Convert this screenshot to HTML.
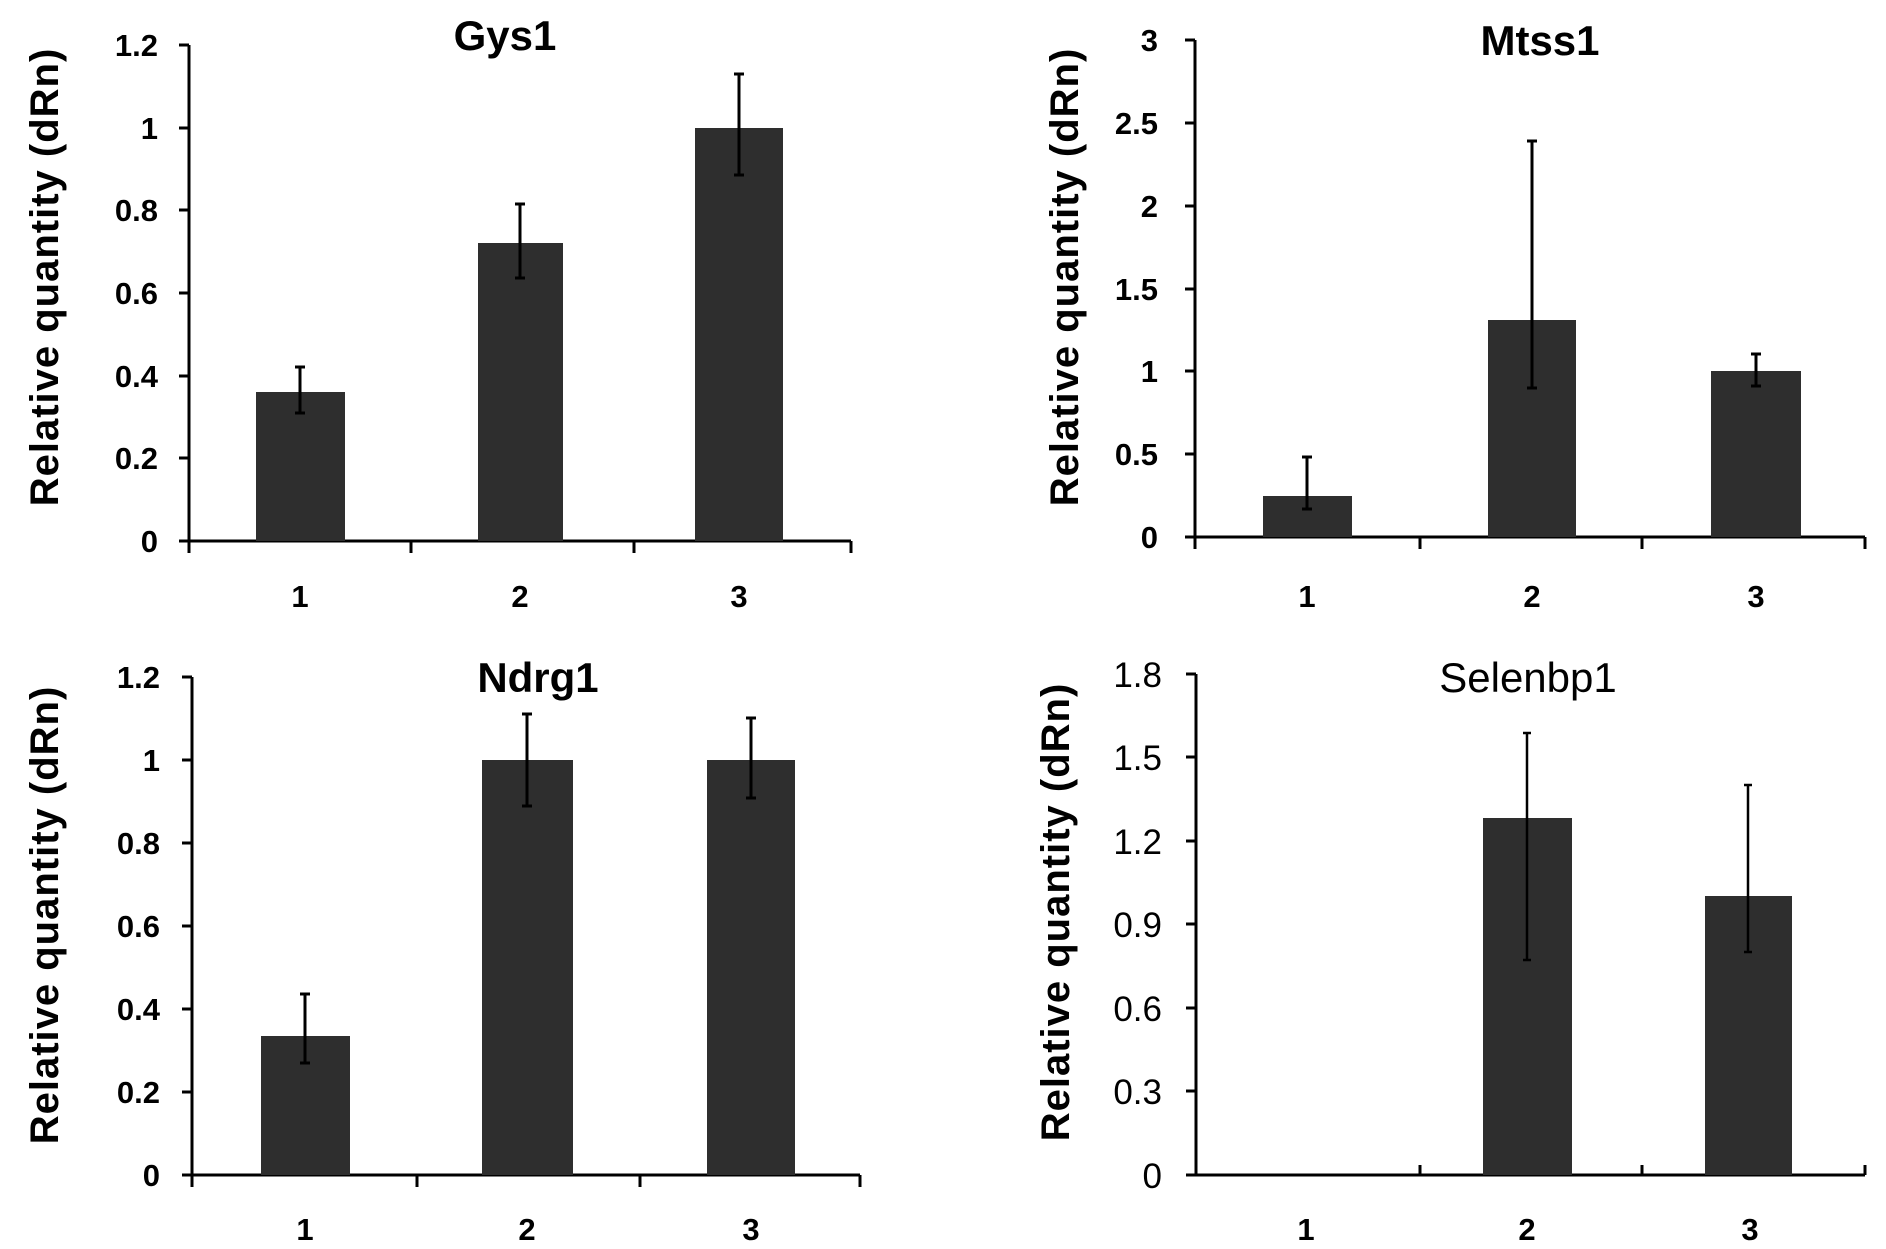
<!DOCTYPE html>
<html><head><meta charset="utf-8"><style>
html,body{margin:0;padding:0;background:#fff}
svg{display:block}
text{font-family:"Liberation Sans",Arial,sans-serif;fill:#000}
.t{font-size:42px;font-weight:bold}
.yl{font-size:40px;font-weight:bold;letter-spacing:1px}
.tk{font-size:31px;font-weight:bold}
.tkn{font-size:35px}
.ct{font-size:31px;font-weight:bold}
</style></head><body>
<svg width="1886" height="1249" viewBox="0 0 1886 1249" xmlns="http://www.w3.org/2000/svg">
<g stroke="#000" stroke-width="3" fill="none">
<path d="M189 45V541H851"/>
<path d="M179 45h10M179 128h10M179 210h10M179 293h10M179 376h10M179 458h10M179 541h10"/>
<path d="M411 541v12M634 541v12M851 541v12M189 541v12"/>
<path d="M1195 40V537H1865"/>
<path d="M1185 40h10M1185 123h10M1185 206h10M1185 289h10M1185 371h10M1185 454h10M1185 537h10"/>
<path d="M1420 537v12M1642 537v12M1865 537v12M1195 537v12"/>
<path d="M192 677V1175H860"/>
<path d="M182 677h10M182 760h10M182 843h10M182 926h10M182 1009h10M182 1092h10M182 1175h10"/>
<path d="M417 1175v12M640 1175v12M860 1175v12M192 1175v12"/>
<path d="M1196 674V1175H1865"/>
<path d="M1186 674h10M1186 757h10M1186 841h10M1186 924h10M1186 1008h10M1186 1091h10M1186 1175h10"/>
<path d="M1420 1175v-10M1642 1175v-10M1865 1175v-10"/>
</g>
<g fill="#2e2e2e">
<rect x="256" y="392" width="89" height="149"/>
<rect x="478" y="243" width="85" height="298"/>
<rect x="695" y="128" width="88" height="413"/>
<rect x="1263" y="496" width="89" height="41"/>
<rect x="1488" y="320" width="88" height="217"/>
<rect x="1711" y="371" width="90" height="166"/>
<rect x="261" y="1036" width="89" height="139"/>
<rect x="482" y="760" width="91" height="415"/>
<rect x="707" y="760" width="88" height="415"/>
<rect x="1483" y="818" width="89" height="357"/>
<rect x="1705" y="896" width="87" height="279"/>
</g>
<g stroke="#000" stroke-width="3" fill="none">
<path d="M300 413V367M295 413h10M295 367h10"/>
<path d="M520 278V204M515 278h10M515 204h10"/>
<path d="M739 175V74M734 175h10M734 74h10"/>
<path d="M1307 509V457M1302 509h10M1302 457h10"/>
<path d="M1532 388V141M1527 388h10M1527 141h10"/>
<path d="M1756 386V354M1751 386h10M1751 354h10"/>
<path d="M305 1063V994M300 1063h10M300 994h10"/>
<path d="M527 806V714M522 806h10M522 714h10"/>
<path d="M751 798V718M746 798h10M746 718h10"/>
<path d="M1527 960V733M1523 960h8M1523 733h8" stroke-width="2.5"/>
<path d="M1748 952V785M1744 952h8M1744 785h8" stroke-width="2.5"/>
</g>
<text class="t" x="505" y="50" text-anchor="middle">Gys1</text>
<text class="t" x="1540" y="55" text-anchor="middle">Mtss1</text>
<text class="t" x="538" y="692" text-anchor="middle">Ndrg1</text>
<text class="t" x="1528" y="692" text-anchor="middle" style="font-weight:normal">Selenbp1</text>
<text class="yl" transform="translate(58,277) rotate(-90)" text-anchor="middle">Relative quantity (dRn)</text>
<text class="yl" transform="translate(1078,277) rotate(-90)" text-anchor="middle">Relative quantity (dRn)</text>
<text class="yl" transform="translate(58,915) rotate(-90)" text-anchor="middle">Relative quantity (dRn)</text>
<text class="yl" transform="translate(1069,912) rotate(-90)" text-anchor="middle">Relative quantity (dRn)</text>
<g class="tk" text-anchor="end">
<text x="158" y="56">1.2</text><text x="158" y="139">1</text><text x="158" y="221">0.8</text><text x="158" y="304">0.6</text><text x="158" y="387">0.4</text><text x="158" y="469">0.2</text><text x="158" y="552">0</text>
<text x="1158" y="51">3</text><text x="1158" y="134">2.5</text><text x="1158" y="217">2</text><text x="1158" y="300">1.5</text><text x="1158" y="382">1</text><text x="1158" y="465">0.5</text><text x="1158" y="548">0</text>
<text x="160" y="688">1.2</text><text x="160" y="771">1</text><text x="160" y="854">0.8</text><text x="160" y="937">0.6</text><text x="160" y="1020">0.4</text><text x="160" y="1103">0.2</text><text x="160" y="1186">0</text>
</g>
<g class="tkn" text-anchor="end">
<text x="1162" y="687">1.8</text><text x="1162" y="770">1.5</text><text x="1162" y="854">1.2</text><text x="1162" y="937">0.9</text><text x="1162" y="1021">0.6</text><text x="1162" y="1104">0.3</text><text x="1162" y="1188">0</text>
</g>
<g class="ct" text-anchor="middle">
<text x="300" y="607">1</text><text x="520" y="607">2</text><text x="739" y="607">3</text>
<text x="1307" y="607">1</text><text x="1532" y="607">2</text><text x="1756" y="607">3</text>
<text x="305" y="1240">1</text><text x="527" y="1240">2</text><text x="751" y="1240">3</text>
<text x="1306" y="1240">1</text><text x="1527" y="1240">2</text><text x="1750" y="1240">3</text>
</g>
</svg>
</body></html>
